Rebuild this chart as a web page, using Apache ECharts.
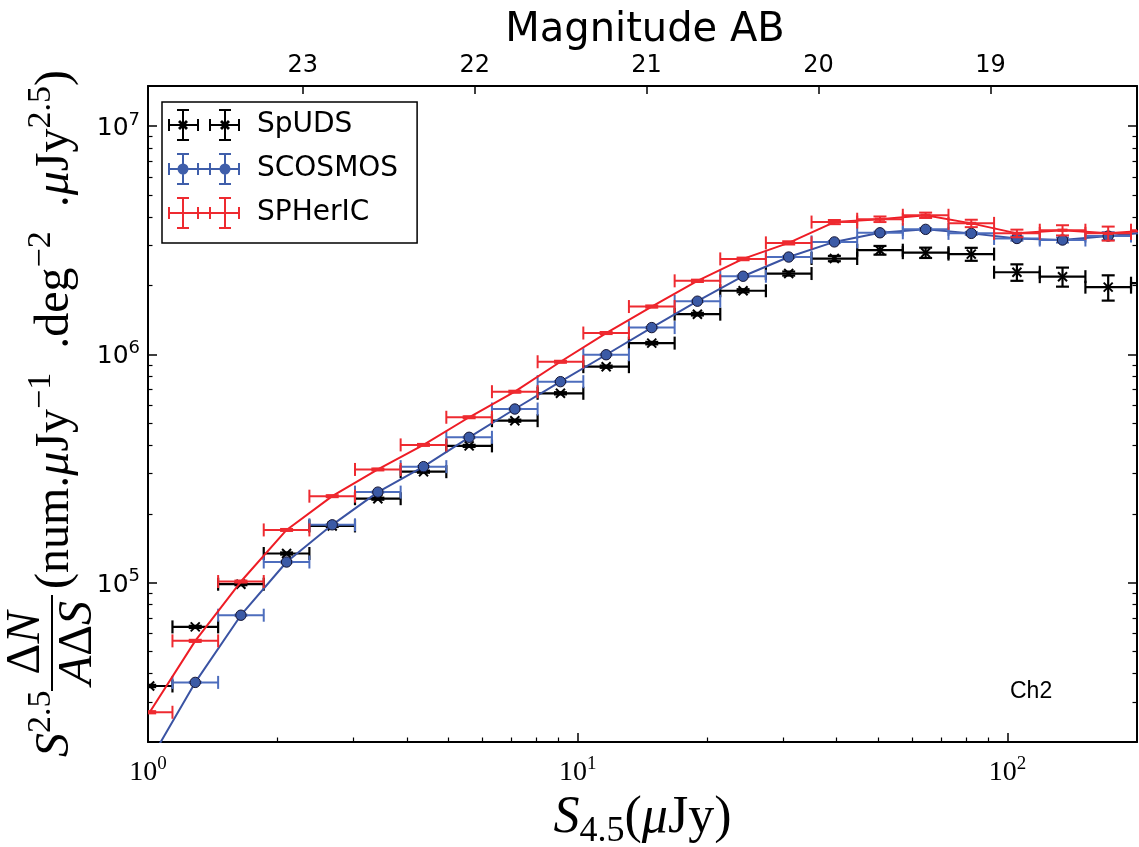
<!DOCTYPE html>
<html><head><meta charset="utf-8">
<script src="https://cdn.jsdelivr.net/npm/echarts@6/dist/echarts.min.js"></script>
<style>html,body{margin:0;padding:0;background:#fff}#c{width:1139px;height:847px}</style>
</head><body><div id="c"></div>
<script>
// ---- data ----
const binCenters = [1.009, 1.288, 1.645, 2.101, 2.683, 3.426, 4.375, 5.587, 7.136, 9.112, 11.64, 14.86, 18.98, 24.24, 30.95, 39.53, 50.47, 64.45, 82.31, 105.1, 134.2, 171.4, 218.9];
const binLower = [0.893, 1.140, 1.456, 1.859, 2.374, 3.031, 3.871, 4.944, 6.313, 8.063, 10.30, 13.15, 16.80, 21.45, 27.39, 34.98, 44.67, 57.04, 72.85, 93.0, 118.8, 151.7, 193.7];
const binUpper = [1.140, 1.456, 1.859, 2.374, 3.031, 3.871, 4.944, 6.313, 8.063, 10.30, 13.15, 16.80, 21.45, 27.39, 34.98, 44.67, 57.04, 72.85, 93.0, 118.8, 151.7, 193.7, 247.4];

const spudsValues = [3.52e4, 6.39e4, 9.83e4, 1.34e5, 1.77e5, 2.33e5, 3.06e5, 3.97e5, 5.12e5, 6.75e5, 8.83e5, 1.12e6, 1.50e6, 1.90e6, 2.26e6, 2.63e6, 2.86e6, 2.79e6, 2.75e6, 2.29e6, 2.19e6, 1.97e6, 2.05e6];
const spudsErrors = [400, 700, 1000, 1400, 1800, 2400, 3200, 4200, 5500, 7500, 1.0e4, 1.4e4, 2.0e4, 3.0e4, 4.6e4, 7.0e4, 1.26e5, 1.45e5, 1.8e5, 1.9e5, 2.1e5, 2.5e5, 3.0e5];

const scosmosValues = [1.65e4, 3.65e4, 7.19e4, 1.23e5, 1.79e5, 2.49e5, 3.22e5, 4.33e5, 5.76e5, 7.59e5, 9.96e5, 1.31e6, 1.71e6, 2.20e6, 2.67e6, 3.11e6, 3.41e6, 3.53e6, 3.39e6, 3.22e6, 3.17e6, 3.30e6, 3.45e6];
const scosmosErrors = [100, 200, 400, 600, 900, 1200, 1600, 2200, 3000, 4000, 5500, 8000, 1.1e4, 1.6e4, 2.3e4, 3.0e4, 3.8e4, 4.5e4, 5.0e4, 7.0e4, 8.0e4, 1.3e5, 1.8e5];

const spherValues = [2.70e4, 5.55e4, 1.01e5, 1.70e5, 2.39e5, 3.13e5, 4.01e5, 5.30e5, 6.86e5, 9.28e5, 1.24e6, 1.62e6, 2.10e6, 2.62e6, 3.08e6, 3.80e6, 3.91e6, 4.07e6, 3.75e6, 3.39e6, 3.50e6, 3.39e6, 3.50e6];
const spherErrors = [300, 600, 1000, 1700, 2400, 3100, 4000, 5300, 7000, 9500, 1.3e4, 1.8e4, 2.5e4, 3.5e4, 5.0e4, 8.0e4, 1.1e5, 1.1e5, 1.4e5, 1.3e5, 1.8e5, 2.4e5, 3.0e5];

const xTicks = [1, 10, 100];
const xMinorTicks = [2, 3, 4, 5, 6, 7, 8, 9, 20, 30, 40, 50, 60, 70, 80, 90];
const yTicks = [1e5, 1e6, 1e7];
const yMinorTicks = [3e4, 4e4, 5e4, 6e4, 7e4, 8e4, 9e4, 2e5, 3e5, 4e5, 5e5, 6e5, 7e5, 8e5, 9e5, 2e6, 3e6, 4e6, 5e6, 6e6, 7e6, 8e6, 9e6];
const magTicks = [19, 20, 21, 22, 23];
const magZeroPoint = 23.9;

// ---- chart ----
const X_MIN = 1, X_MAX = 200, Y_MIN = 2e4, Y_MAX = 1.5e7;
const MAG_MAX = magZeroPoint - 2.5 * Math.log10(X_MIN);
const MAG_MIN = magZeroPoint - 2.5 * Math.log10(X_MAX);

function rows(vals, errs) {
  return binCenters.map((x, i) => [x, vals[i], binLower[i], binUpper[i], vals[i] - errs[i], vals[i] + errs[i]]);
}
function powLabel(v) { return '{b|10}{s|' + Math.round(Math.log10(v)) + '}'; }

function errorBarSeries(name, data, o) {
  return {
    type: 'custom', name: name, data: data, xAxisIndex: 0, yAxisIndex: 0, z: o.z, clip: true,
    encode: { x: 0, y: 1 },
    itemStyle: { color: o.legendColor },
    renderItem: function (params, api) {
      const x = api.value(0), y = api.value(1);
      const c = api.coord([x, y]);
      const l = api.coord([api.value(2), y]);
      const r = api.coord([api.value(3), y]);
      const lo = api.coord([x, api.value(4)]);
      const hi = api.coord([x, api.value(5)]);
      const cs = params.coordSys;
      const st = { stroke: o.barColor, lineWidth: o.barWidth, fill: null };
      const cap = 6.5;
      const ch = [
        { type: 'line', shape: { x1: l[0], y1: c[1], x2: r[0], y2: c[1] }, style: st },
        { type: 'line', shape: { x1: l[0], y1: c[1] - cap, x2: l[0], y2: c[1] + cap }, style: st },
        { type: 'line', shape: { x1: r[0], y1: c[1] - cap, x2: r[0], y2: c[1] + cap }, style: st },
        { type: 'line', shape: { x1: c[0], y1: lo[1], x2: c[0], y2: hi[1] }, style: st },
        { type: 'line', shape: { x1: c[0] - cap, y1: lo[1], x2: c[0] + cap, y2: lo[1] }, style: st },
        { type: 'line', shape: { x1: c[0] - cap, y1: hi[1], x2: c[0] + cap, y2: hi[1] }, style: st }
      ];
      if (o.marker === 'x') {
        const m = 4.5, ms = { stroke: '#000', lineWidth: 2, fill: null };
        ch.push({ type: 'line', shape: { x1: c[0] - m, y1: c[1] - m, x2: c[0] + m, y2: c[1] + m }, style: ms });
        ch.push({ type: 'line', shape: { x1: c[0] - m, y1: c[1] + m, x2: c[0] + m, y2: c[1] - m }, style: ms });
      } else if (o.marker === 'o') {
        ch.push({ type: 'circle', shape: { cx: c[0], cy: c[1], r: 5.2 }, style: { fill: '#3b5aa6', stroke: '#141433', lineWidth: 1 } });
      } else if (o.marker === '_') {
        ch.push({ type: 'line', shape: { x1: c[0] - 5, y1: c[1], x2: c[0] + 5, y2: c[1] }, style: { stroke: o.barColor, lineWidth: 3.2 } });
      }
      return { type: 'group', children: ch, clipPath: { type: 'rect', shape: { x: cs.x, y: cs.y, width: cs.width, height: cs.height } } };
    }
  };
}

const axisLineStyle = { show: true, lineStyle: { color: '#000', width: 2 } };
const majorTick = (vals) => ({ show: true, inside: true, length: 9, customValues: vals, lineStyle: { color: '#000', width: 1.5 } });
const minorTick = (vals) => ({ show: true, inside: true, length: 4.5, customValues: vals, lineStyle: { color: '#000', width: 1.2 } });

const capsPart = 'M0 10h2v12h-2z M29 10h2v12h-2z M41 10h2v12h-2z M70 10h2v12h-2z';
const vertPart = 'M14 1h2v30h-2z M56 1h2v30h-2z M9 0h12v2h-12z M9 30h12v2h-12z M51 0h12v2h-12z M51 30h12v2h-12z';
const iconSp = 'path://' + capsPart + ' ' + vertPart + ' M0 15h30v2h-30z M42 15h30v2h-30z' +
  ' M10 13L12 11L20 19L18 21Z M18 11L20 13L12 21L10 19Z M52 13L54 11L62 19L60 21Z M60 11L62 13L54 21L52 19Z';
const iconSc = 'path://' + capsPart + ' ' + vertPart + ' M0 15h72v2h-72z' +
  ' M9.5 16A5.5 5.5 0 1 1 20.5 16A5.5 5.5 0 1 1 9.5 16Z M51.5 16A5.5 5.5 0 1 1 62.5 16A5.5 5.5 0 1 1 51.5 16Z';
const iconSh = 'path://' + capsPart + ' ' + vertPart + ' M0 15h72v2h-72z';

const SERIF = 'Liberation Serif';
const serifRich = {
  n: { fontFamily: SERIF, fontSize: 48, color: '#000', verticalAlign: 'bottom' },
  i: { fontFamily: SERIF, fontSize: 48, fontStyle: 'italic', color: '#000', verticalAlign: 'bottom' },
  sp: { fontFamily: SERIF, fontSize: 34, color: '#000', verticalAlign: 'bottom', padding: [0, 0, 21, 0] }
};

const option = {
  backgroundColor: '#fff',
  animation: false,
  grid: { left: 148, right: 2, top: 86, bottom: 105, containLabel: false, outerBoundsMode: 'none' },
  legend: {
    left: 162, top: 102, orient: 'vertical', selectedMode: false,
    data: [{ name: 'SpUDS', icon: iconSp }, { name: 'SCOSMOS', icon: iconSc }, { name: 'SPHerIC', icon: iconSh }],
    itemWidth: 72, itemHeight: 32, itemGap: 12,
    padding: [7, 19, 14, 6],
    borderColor: '#000', borderWidth: 1.5, backgroundColor: '#fff',
    itemStyle: { borderWidth: 0 },
    textStyle: { fontFamily: 'DejaVu Sans', fontSize: 28, color: '#000', padding: [0, 0, 0, 12] }
  },
  xAxis: [
    {
      type: 'log', logBase: 10, min: X_MIN, max: X_MAX, position: 'bottom',
      axisLine: axisLineStyle, axisTick: majorTick(xTicks), splitLine: { show: false },
      axisLabel: {
        customValues: xTicks, formatter: powLabel, margin: 13,
        rich: {
          b: { fontFamily: SERIF, fontSize: 28, color: '#000', verticalAlign: 'bottom' },
          s: { fontFamily: SERIF, fontSize: 19, color: '#000', verticalAlign: 'bottom', padding: [0, 0, 13, 0] }
        }
      },
      name: '{i|S}{sub|4.5}{n|(}{i|μ}{n|Jy)}', nameLocation: 'middle', nameGap: 50, nameMoveOverlap: false,
      nameTextStyle: {
        rich: {
          n: { fontFamily: SERIF, fontSize: 52, color: '#000', verticalAlign: 'top' },
          i: { fontFamily: SERIF, fontSize: 52, fontStyle: 'italic', color: '#000', verticalAlign: 'top' },
          sub: { fontFamily: SERIF, fontSize: 36, color: '#000', verticalAlign: 'top', padding: [22, 0, 0, 0] }
        }
      }
    },
    {
      type: 'log', logBase: 10, min: X_MIN, max: X_MAX, position: 'bottom',
      axisLine: { show: false }, axisTick: minorTick(xMinorTicks), axisLabel: { show: false }, splitLine: { show: false }
    },
    {
      type: 'value', min: MAG_MIN, max: MAG_MAX, inverse: true, position: 'top',
      axisLine: axisLineStyle, axisTick: { show: true, inside: true, length: 8, customValues: magTicks, lineStyle: { color: '#000', width: 1.5 } },
      splitLine: { show: false },
      axisLabel: { customValues: magTicks, margin: 8, fontFamily: 'DejaVu Sans', fontSize: 24, color: '#000' }
    }
  ],
  yAxis: [
    {
      type: 'log', logBase: 10, min: Y_MIN, max: Y_MAX, position: 'left',
      axisLine: axisLineStyle, axisTick: majorTick(yTicks), splitLine: { show: false },
      axisLabel: {
        customValues: yTicks, formatter: powLabel, margin: 8,
        rich: {
          b: { fontFamily: 'DejaVu Sans', fontSize: 25, color: '#000', verticalAlign: 'bottom' },
          s: { fontFamily: 'DejaVu Sans', fontSize: 18, color: '#000', verticalAlign: 'bottom', padding: [0, 0, 12, 0] }
        }
      }
    },
    {
      type: 'log', logBase: 10, min: Y_MIN, max: Y_MAX, position: 'left',
      axisLine: { show: false }, axisTick: minorTick(yMinorTicks), axisLabel: { show: false }, splitLine: { show: false }
    },
    {
      type: 'log', logBase: 10, min: Y_MIN, max: Y_MAX, position: 'right',
      axisLine: axisLineStyle, axisTick: majorTick(yTicks), axisLabel: { show: false }, splitLine: { show: false }
    },
    {
      type: 'log', logBase: 10, min: Y_MIN, max: Y_MAX, position: 'right',
      axisLine: { show: false }, axisTick: minorTick(yMinorTicks), axisLabel: { show: false }, splitLine: { show: false }
    }
  ],
  graphic: [
    { type: 'text', x: 645, y: 31, silent: true, style: { text: 'Magnitude AB', fontFamily: 'DejaVu Sans', fontSize: 40, fill: '#000', align: 'center', verticalAlign: 'middle' } },
    {
      type: 'group', x: 52, y: 757, rotation: Math.PI / 2, silent: true,
      children: [
        { type: 'text', x: 0, y: 0, style: { text: '{i|S}{sp|2.5}', rich: serifRich, align: 'left', verticalAlign: 'middle' } },
        { type: 'line', shape: { x1: 66, y1: 0, x2: 162, y2: 0 }, style: { stroke: '#000', lineWidth: 2 } },
        { type: 'text', x: 114, y: -2, style: { text: '{n|Δ}{i|N}', rich: serifRich, align: 'center', verticalAlign: 'bottom' } },
        { type: 'text', x: 114, y: 2, style: { text: '{i|A}{n|Δ}{i|S}', rich: serifRich, align: 'center', verticalAlign: 'top' } },
        { type: 'text', x: 168, y: 0, style: { text: '{n|(num.}{i|μ}{n|Jy}{sp|−1}{n|  .deg}{sp|−2}{n|  .}{i|μ}{n|Jy}{sp|2.5}{n|)}', rich: serifRich, align: 'left', verticalAlign: 'middle' } }
      ]
    },
    { type: 'text', left: 1010, top: 680, silent: true, style: { text: 'Ch2', fontFamily: 'Liberation Sans', fontSize: 23, fill: '#000' } }
  ],
  series: [
    errorBarSeries('SpUDS', rows(spudsValues, spudsErrors), { z: 2, barColor: '#000', barWidth: 2.2, legendColor: '#000', marker: 'x' }),
    {
      type: 'line', name: 'SCOSMOS line', xAxisIndex: 0, yAxisIndex: 0, z: 3, clip: true,
      data: binCenters.map((x, i) => [x, scosmosValues[i]]), showSymbol: false, symbol: 'none', silent: true,
      lineStyle: { color: '#3a53a3', width: 2 }
    },
    errorBarSeries('SCOSMOS', rows(scosmosValues, scosmosErrors), { z: 4, barColor: '#4d6dbd', barWidth: 2, legendColor: '#3f5eaa', marker: 'o' }),
    {
      type: 'line', name: 'SPHerIC line', xAxisIndex: 0, yAxisIndex: 0, z: 5, clip: true,
      data: binCenters.map((x, i) => [x, spherValues[i]]), showSymbol: false, symbol: 'none', silent: true,
      lineStyle: { color: '#ee1c25', width: 2 }
    },
    errorBarSeries('SPHerIC', rows(spherValues, spherErrors), { z: 6, barColor: '#ee2a30', barWidth: 2, legendColor: '#ee2a30', marker: '_' })
  ]
};

const chart = echarts.init(document.getElementById('c'), null, { renderer: 'canvas' });
chart.setOption(option);
</script>
</body></html>
